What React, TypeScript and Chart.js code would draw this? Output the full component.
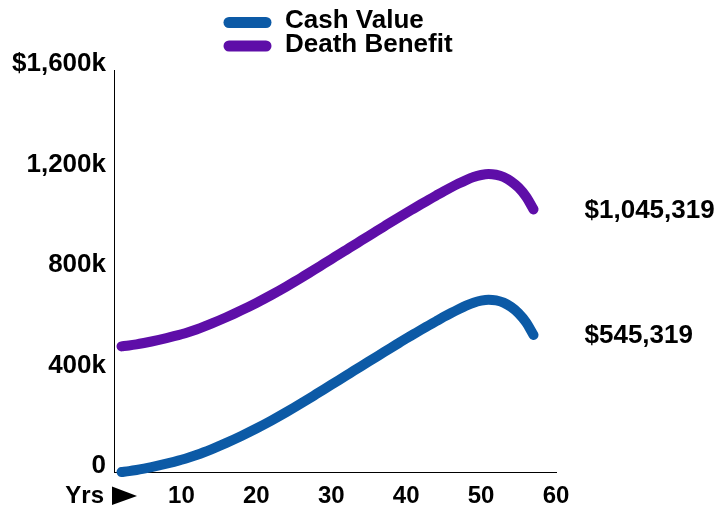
import React, { useEffect, useRef } from "react";
import { Chart, registerables } from "chart.js";

Chart.register(...registerables);

// ---- Data ----
const years = [
  2, 3, 4, 5, 6, 7, 8, 9, 10, 11, 12, 13, 14, 15, 16, 17, 18, 19, 20, 21, 22, 23, 24, 25, 26, 27, 28, 29,
  30, 31, 32, 33, 34, 35, 36, 37, 38, 39, 40, 41, 42, 43, 44, 45, 46, 47, 48, 49, 50, 51, 52, 53, 54, 55,
  56, 57,
];

const cashValue = [
  0, 3500, 8000, 13500, 19500, 26000, 33000, 40500, 48500, 57500, 67500, 78500, 90500, 103000, 116000,
  129500, 143500, 158000, 173000, 188500, 204500, 221000, 238000, 255500, 273500, 291500, 310000, 328500,
  347000, 365500, 384000, 402500, 421000, 439500, 458000, 476500, 495000, 513000, 531000, 548500, 566000,
  583000, 600000, 617000, 633000, 648000, 662000, 674000, 682000, 686000, 683000, 674000, 657000, 632000,
  596000, 545319,
];

const deathBenefit = [
  500000, 503500, 508000, 513500, 519500, 526000, 533000, 540500, 548500, 557500, 567500, 578500, 590500,
  603000, 616000, 629500, 643500, 658000, 673000, 688500, 704500, 721000, 738000, 755500, 773500, 791500,
  810000, 828500, 847000, 865500, 884000, 902500, 921000, 939500, 958000, 976500, 995000, 1013000, 1031000,
  1048500, 1066000, 1083000, 1100000, 1117000, 1133000, 1148000, 1162000, 1174000, 1182000, 1186000,
  1183000, 1174000, 1157000, 1132000, 1096000, 1045319,
];

const seriesLabels = ["Cash Value", "Death Benefit"];
const seriesColors = ["#0c5aa6", "#5e0ea8"];
const endValues = [cashValue[cashValue.length - 1], deathBenefit[deathBenefit.length - 1]];

const yTickValues = [0, 400000, 800000, 1200000, 1600000];
const yTickLabels = ["0", "400k", "800k", "1,200k", "$1,600k"];
const xTickValues = [10, 20, 30, 40, 50, 60];
const xStartLabel = "Yrs";

const FONT = "'Liberation Sans', Arial, Helvetica, sans-serif";

const overlayPlugin = {
  id: "overlay",
  afterDraw(chart: any) {
    const ctx = chart.ctx;
    ctx.save();
    // Legend (stacked)
    const rowsY = [22.5, 46];
    seriesLabels.forEach((label, i) => {
      ctx.strokeStyle = seriesColors[i];
      ctx.lineWidth = 11;
      ctx.lineCap = "round";
      ctx.beginPath();
      ctx.moveTo(229, rowsY[i]);
      ctx.lineTo(266, rowsY[i]);
      ctx.stroke();
      ctx.fillStyle = "#000";
      ctx.font = `bold 26px ${FONT}`;
      ctx.textAlign = "left";
      ctx.textBaseline = "middle";
      ctx.fillText(label, 285, rowsY[i] - 1.5);
    });

    // End-value labels
    endValues.forEach((v, i) => {
      const meta = chart.getDatasetMeta(i);
      const last = meta.data[meta.data.length - 1];
      ctx.fillStyle = "#000";
      ctx.font = `bold 26px ${FONT}`;
      ctx.textAlign = "left";
      ctx.textBaseline = "middle";
      ctx.fillText("$" + Number(v).toLocaleString("en-US"), last.x + 51, last.y + 1);
    });

    // "Yrs ▶" start label
    const xs = chart.scales.x;
    ctx.font = `bold 24px ${FONT}`;
    ctx.textAlign = "right";
    ctx.textBaseline = "middle";
    ctx.fillStyle = "#000";
    ctx.fillText(xStartLabel, xs.left - 10, 496);
    ctx.beginPath();
    ctx.moveTo(xs.left - 2, 486.5);
    ctx.lineTo(xs.left - 2, 505);
    ctx.lineTo(xs.left + 23, 496);
    ctx.closePath();
    ctx.fill();
    ctx.restore();
  },
};

export default function App() {
  const ref = useRef<HTMLCanvasElement | null>(null);

  useEffect(() => {
    if (!ref.current) return;
    Chart.defaults.font.family = FONT;
    const chart = new Chart(ref.current, {
      type: "line",
      data: {
        labels: years,
        datasets: [
          {
            label: seriesLabels[0],
            data: years.map((y, i) => ({ x: y, y: cashValue[i] })),
            borderColor: seriesColors[0],
            backgroundColor: seriesColors[0],
            borderWidth: 10,
            borderCapStyle: "round",
            borderJoinStyle: "round",
            pointRadius: 0,
            cubicInterpolationMode: "monotone",
            clip: false as any,
          },
          {
            label: seriesLabels[1],
            data: years.map((y, i) => ({ x: y, y: deathBenefit[i] })),
            borderColor: seriesColors[1],
            backgroundColor: seriesColors[1],
            borderWidth: 10,
            borderCapStyle: "round",
            borderJoinStyle: "round",
            pointRadius: 0,
            cubicInterpolationMode: "monotone",
            clip: false as any,
          },
        ],
      },
      options: {
        responsive: false,
        animation: false,
        layout: { padding: { top: 70, right: 161, left: 0, bottom: 0 } },
        plugins: {
          legend: { display: false },
          tooltip: { enabled: false },
        },
        scales: {
          x: {
            type: "linear",
            min: 1,
            max: 60,
            grid: { display: false, drawTicks: false },
            border: { display: true, color: "#000", width: 1 },
            afterBuildTicks: (s: any) => {
              s.ticks = xTickValues.map((v) => ({ value: v }));
            },
            afterFit: (s: any) => {
              s.height = 36;
            },
            ticks: {
              autoSkip: false,
              maxRotation: 0,
              padding: 10,
              color: "#000",
              font: { size: 24, weight: "bold" },
              callback: (v: any) => String(v),
            },
          },
          y: {
            min: 0,
            max: 1600000,
            grid: { display: false, drawTicks: false },
            border: { display: true, color: "#000", width: 1 },
            afterBuildTicks: (s: any) => {
              s.ticks = yTickValues.map((v) => ({ value: v }));
            },
            afterFit: (s: any) => {
              s.width = 114;
            },
            ticks: {
              autoSkip: false,
              padding: 8,
              labelOffset: -6,
              color: "#000",
              font: { size: 26, weight: "bold" },
              callback: (v: any) => {
                const idx = yTickValues.indexOf(Number(v));
                return idx >= 0 ? yTickLabels[idx] : "";
              },
            },
          },
        },
      },
      plugins: [overlayPlugin],
    });
    return () => chart.destroy();
  }, []);

  return (
    <div style={{ position: "fixed", left: 0, top: 0, width: 717, height: 508, background: "#fff" }}>
      <canvas ref={ref} width={717} height={508} style={{ display: "block" }} />
    </div>
  );
}
